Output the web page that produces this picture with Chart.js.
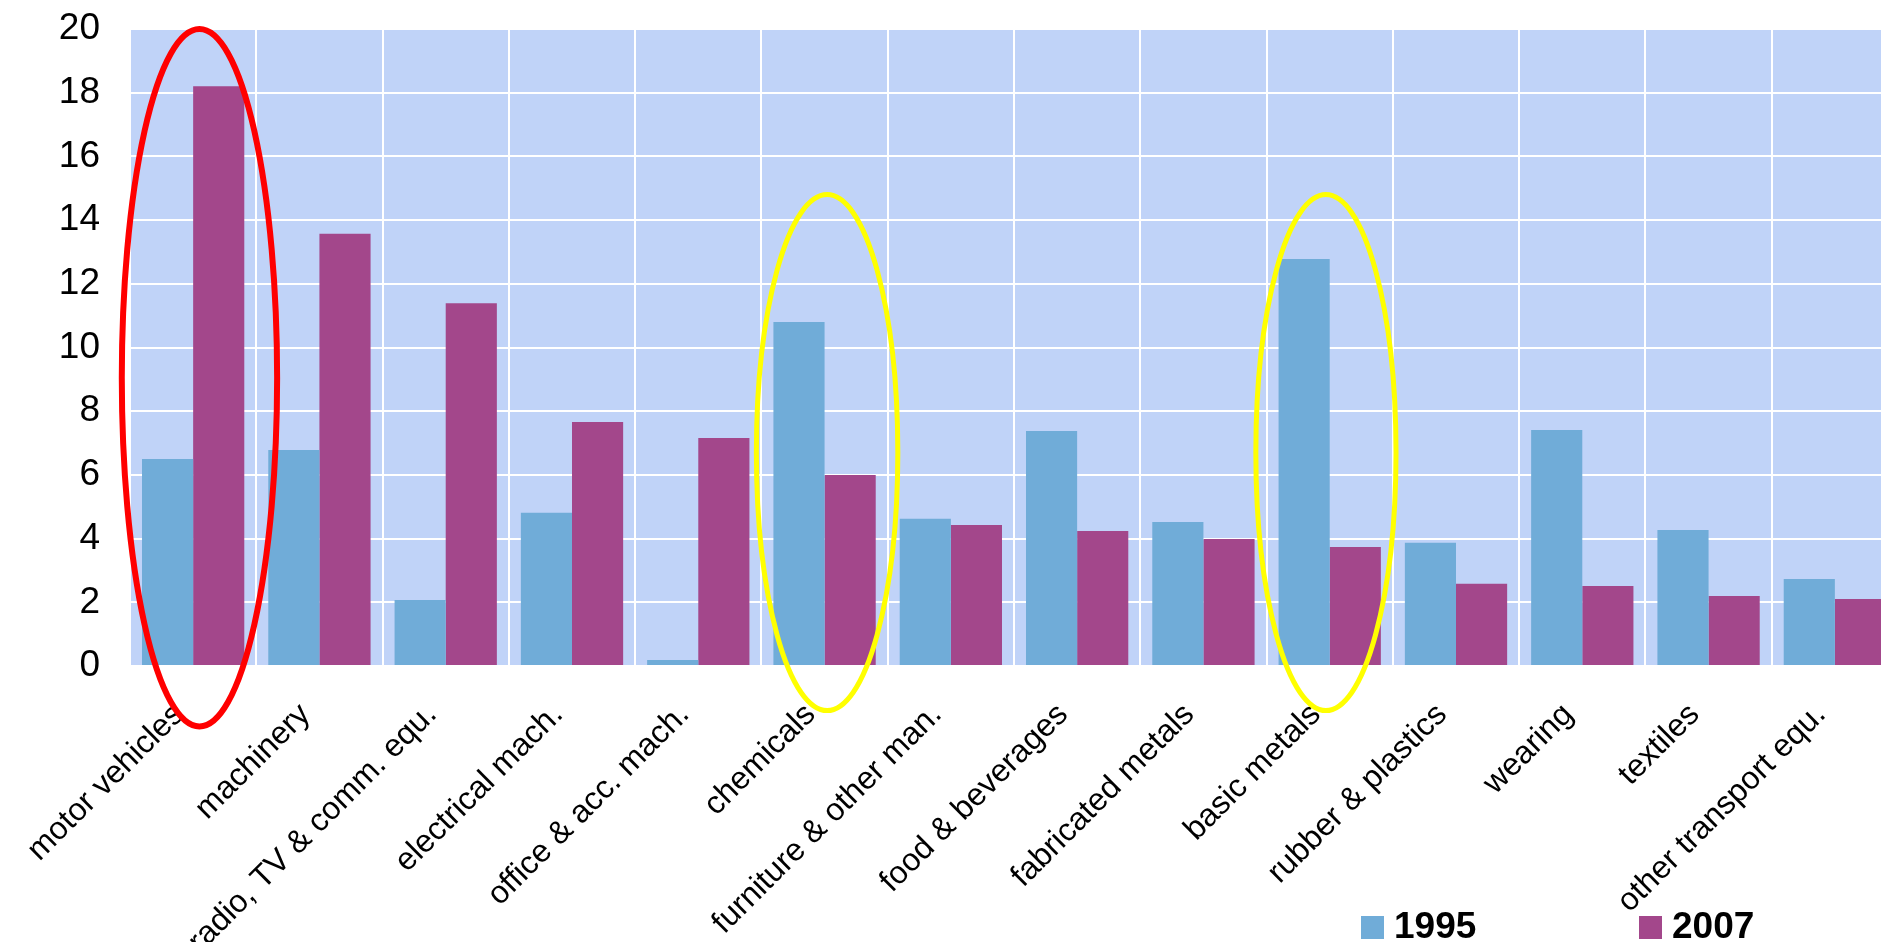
<!DOCTYPE html>
<html>
<head>
<meta charset="utf-8">
<script src="https://cdn.jsdelivr.net/npm/chart.js@4.4.0/dist/chart.umd.min.js"></script>
<style>
html, body { margin: 0; padding: 0; background: #fff; overflow: hidden; }
#wrap { width: 1881px; height: 942px; overflow: hidden; position: relative; }
#box { width: 1898px; height: 942px; position: absolute; left: 0; top: 0; }
</style>
</head>
<body>
<div id="wrap"><div id="box"><canvas id="chart"></canvas></div></div>
<script>
const categories = ['motor vehicles', 'machinery', 'radio, TV & comm. equ.', 'electrical mach.',
    'office & acc. mach.', 'chemicals', 'furniture & other man.', 'food & beverages',
    'fabricated metals', 'basic metals', 'rubber & plastics', 'wearing', 'textiles',
    'other transport equ.']
const values1995 = [6.5, 6.78, 2.07, 4.81, 0.19, 10.8, 4.62, 7.38, 4.52, 12.78, 3.87, 7.41, 4.27, 2.73]
const values2007 = [18.2, 13.57, 11.39, 7.66, 7.16, 6.0, 4.43, 4.24, 3.99, 3.74, 2.58, 2.51, 2.2, 2.1]
const seriesLabels = ['1995', '2007']
const yMin = 0
const yMax = 20
const yStep = 2

// ovals drawn over the chart: category index, value range covered
const highlights = [
    { index: 0, top: 20, bottom: -1.9, half: 0.615, shift: 0.05, color: '#FF0000', width: 6 },
    { index: 5, top: 14.8, bottom: -1.4, half: 0.56, shift: 0.02, color: '#FFFF00', width: 5 },
    { index: 9, top: 14.8, bottom: -1.4, half: 0.555, shift: -0.03, color: '#FFFF00', width: 5 }
]

const FONT = "'Liberation Sans', Arial, sans-serif"
const colors = ['#70ACD8', '#A3478B']

const plotBackground = {
    id: 'plotBackground',
    beforeDraw(chart) {
        const { ctx, chartArea: a } = chart
        ctx.save()
        ctx.fillStyle = '#C0D3F8'
        ctx.fillRect(a.left, a.top, a.right - a.left, a.bottom - a.top + 1)
        ctx.restore()
    }
}

const ovals = {
    id: 'ovals',
    afterDraw(chart) {
        const { ctx } = chart
        const x = chart.scales.x
        const y = chart.scales.y
        const w = x.width / categories.length
        highlights.forEach(h => {
            const cx = x.getPixelForValue(h.index) + h.shift * w
            const top = y.getPixelForValue(h.top)
            const bottom = y.getPixelForValue(h.bottom)
            ctx.save()
            ctx.beginPath()
            ctx.ellipse(cx, (top + bottom) / 2, h.half * w, (bottom - top) / 2, 0, 0, Math.PI * 2)
            ctx.strokeStyle = h.color
            ctx.lineWidth = h.width
            ctx.stroke()
            ctx.restore()
        })
    }
}

// legend sits at the bottom right, over the label area
const bottomLegend = {
    id: 'bottomLegend',
    afterDraw(chart) {
        const { ctx } = chart
        const xs = [1361, 1639]
        chart.data.datasets.forEach((ds, i) => {
            ctx.save()
            ctx.fillStyle = ds.backgroundColor
            ctx.fillRect(xs[i], 916, 23, 23)
            ctx.fillStyle = '#000'
            ctx.font = 'bold 37px ' + FONT
            ctx.textBaseline = 'alphabetic'
            ctx.textAlign = 'left'
            ctx.fillText(ds.label, xs[i] + 33, 938)
            ctx.restore()
        })
    }
}

const chart = new Chart(document.getElementById('chart').getContext('2d'), {
    type: 'bar',
    data: {
        labels: categories,
        datasets: [{
            label: seriesLabels[0],
            data: values1995,
            backgroundColor: colors[0],
            categoryPercentage: 0.81,
            barPercentage: 1.0
        }, {
            label: seriesLabels[1],
            data: values2007,
            backgroundColor: colors[1],
            categoryPercentage: 0.81,
            barPercentage: 1.0
        }]
    },
    options: {
        responsive: true,
        maintainAspectRatio: false,
        animation: false,
        layout: {
            padding: { top: 29, left: 0, right: 0, bottom: 0 }
        },
        plugins: {
            legend: { display: false },
            tooltip: { enabled: false }
        },
        scales: {
            x: {
                grid: { color: '#FFFFFF', lineWidth: 2, drawTicks: false, offset: true },
                border: { display: false },
                ticks: {
                    color: '#000',
                    font: { family: FONT, size: 32 },
                    maxRotation: 45,
                    minRotation: 45,
                    autoSkip: false,
                    padding: 30,
                    labelOffset: -14
                },
                afterFit(scale) {
                    scale.height = 276
                    scale.paddingLeft = 0
                    scale.paddingRight = 0
                }
            },
            y: {
                min: yMin,
                max: yMax,
                grid: { color: '#FFFFFF', lineWidth: 2, drawTicks: false },
                border: { display: false },
                ticks: {
                    stepSize: yStep,
                    color: '#000',
                    font: { family: FONT, size: 37 },
                    padding: 30
                },
                afterFit(scale) {
                    scale.width = 130
                    scale.paddingTop = 0
                    scale.paddingBottom = 0
                }
            }
        }
    },
    plugins: [plotBackground, ovals, bottomLegend]
})
</script>
</body>
</html>
